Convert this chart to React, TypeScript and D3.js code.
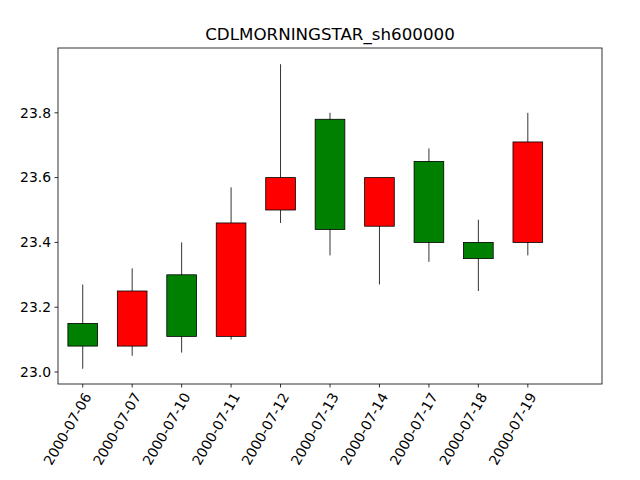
import React from 'react';
import * as d3 from 'd3';

const dates = ['2000-07-06', '2000-07-07', '2000-07-10', '2000-07-11', '2000-07-12', '2000-07-13', '2000-07-14', '2000-07-17', '2000-07-18', '2000-07-19'];
const opens = [23.15, 23.08, 23.3, 23.11, 23.5, 23.78, 23.45, 23.65, 23.4, 23.4];
const closes = [23.08, 23.25, 23.11, 23.46, 23.6, 23.44, 23.6, 23.4, 23.35, 23.71];
const highs = [23.27, 23.32, 23.4, 23.57, 23.95, 23.8, 23.6, 23.69, 23.47, 23.8];
const lows = [23.01, 23.05, 23.06, 23.1, 23.46, 23.36, 23.27, 23.34, 23.25, 23.36];
const yTicks = [23.0, 23.2, 23.4, 23.6, 23.8];

const margin = { left: 58, right: 38, top: 48, bottom: 96 };
const W = 640, H = 480;

const App: React.FC = () => {
  const x = d3.scaleLinear().domain([-0.5, 10.5]).range([margin.left, W - margin.right]);
  const y = d3.scaleLinear().domain([22.963, 24.0]).range([H - margin.bottom, margin.top]);
  const bw = x(0.3) - x(0);
  const font = 'DejaVu Sans, sans-serif';
  return (
    <svg width={W} height={H} style={{ position: 'absolute', left: 0, top: 0, background: '#fff' }}>
      <text x={(margin.left + W - margin.right) / 2} y={40} textAnchor="middle" fontFamily={font} fontSize={16.7}>CDLMORNINGSTAR_sh600000</text>
      {dates.map((d, i) => {
        const up = closes[i] >= opens[i];
        const top = y(Math.max(opens[i], closes[i]));
        const bot = y(Math.min(opens[i], closes[i]));
        return (
          <g key={d}>
            <line x1={x(i)} x2={x(i)} y1={y(highs[i])} y2={y(lows[i])} stroke="#000" strokeWidth={0.8} />
            <rect x={x(i) - bw} width={bw * 2} y={top} height={bot - top} fill={up ? 'red' : 'green'} stroke="#000" strokeWidth={0.8} />
          </g>
        );
      })}
      <rect x={margin.left} y={margin.top} width={W - margin.left - margin.right} height={H - margin.top - margin.bottom} fill="none" stroke="#000" strokeWidth={0.8} />
      {yTicks.map(t => (
        <g key={t}>
          <line x1={margin.left - 3.5} x2={margin.left} y1={y(t)} y2={y(t)} stroke="#000" strokeWidth={0.8} />
          <text x={margin.left - 7} y={y(t)} dy="0.35em" textAnchor="end" fontFamily={font} fontSize={13.9}>{t.toFixed(1)}</text>
        </g>
      ))}
      {dates.map((d, i) => (
        <g key={d}>
          <line x1={x(i)} x2={x(i)} y1={H - margin.bottom} y2={H - margin.bottom + 3.5} stroke="#000" strokeWidth={0.8} />
          <text transform={`translate(${x(i) + 5},${H - margin.bottom + 10}) rotate(-60)`} textAnchor="end" dy="0.35em" fontFamily={font} fontSize={13.9}>{d}</text>
        </g>
      ))}
    </svg>
  );
};

export default App;
